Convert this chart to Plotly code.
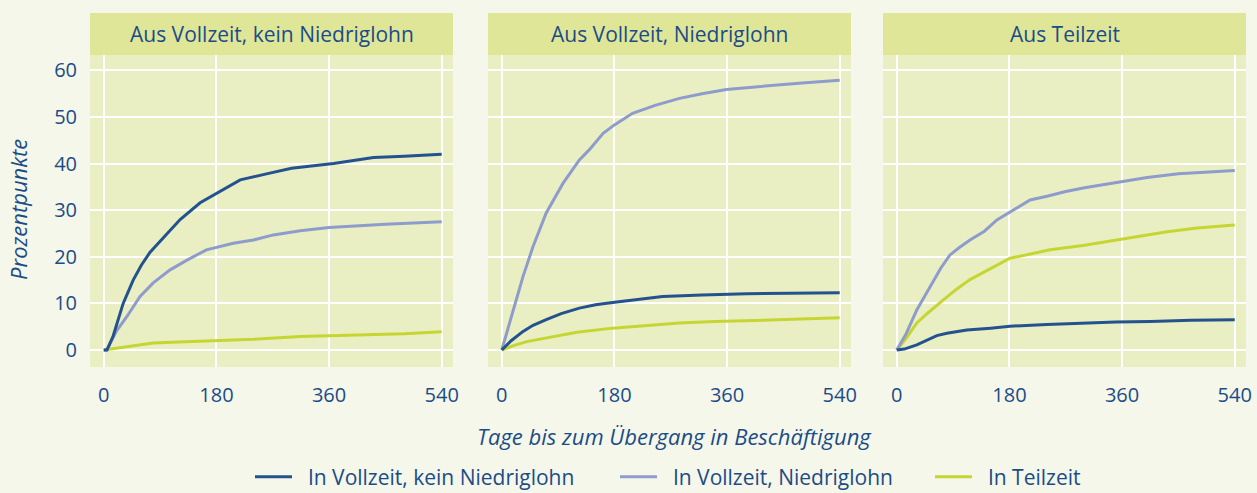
import plotly.graph_objects as go

# ---------------- data ----------------
panel_titles = ["Aus Vollzeit, kein Niedriglohn", "Aus Vollzeit, Niedriglohn", "Aus Teilzeit"]
series_names = ["In Vollzeit, kein Niedriglohn", "In Vollzeit, Niedriglohn", "In Teilzeit"]
series_colors = ["#24528f", "#8e9ccc", "#c5d632"]

x_ticks = [0, 180, 360, 540]
y_ticks = [0, 10, 20, 30, 40, 50, 60]

# Panel 1: Aus Vollzeit, kein Niedriglohn
p1_vz_kein_days = [0, 5, 15, 31, 47, 60, 74, 95, 122, 154, 180, 218, 260, 300, 367, 431, 480, 540]
p1_vz_kein_vals = [0, 0, 3, 10, 15, 18.2, 21, 24, 28, 31.6, 33.6, 36.5, 37.8, 39, 40, 41.3, 41.6, 42]
p1_vz_nl_days = [0, 5, 20, 37, 58, 79, 106, 133, 164, 207, 239, 271, 314, 360, 450, 540]
p1_vz_nl_vals = [0, 0, 4, 7.2, 11.5, 14.4, 17.2, 19.3, 21.5, 22.9, 23.6, 24.7, 25.6, 26.3, 27, 27.5]
p1_tz_days = [0, 40, 79, 120, 180, 240, 314, 400, 480, 540]
p1_tz_vals = [0, 0.7, 1.5, 1.7, 2.0, 2.3, 2.9, 3.2, 3.5, 3.9]

# Panel 2: Aus Vollzeit, Niedriglohn
p2_vz_kein_days = [0, 15, 34, 50, 71, 95, 124, 150, 177, 210, 257, 320, 391, 460, 540]
p2_vz_kein_vals = [0, 2, 4, 5.3, 6.5, 7.8, 9, 9.7, 10.2, 10.8, 11.5, 11.8, 12.1, 12.2, 12.3]
p2_vz_nl_days = [0, 18, 34, 50, 71, 98, 124, 140, 162, 180, 209, 245, 284, 320, 359, 400, 433, 480, 540]
p2_vz_nl_vals = [0, 8.6, 15.8, 22.2, 29.4, 35.8, 40.8, 43, 46.5, 48.3, 50.8, 52.5, 54, 55, 55.9, 56.4, 56.8, 57.3, 57.9]
p2_tz_days = [0, 20, 40, 71, 120, 177, 230, 284, 340, 391, 460, 540]
p2_tz_vals = [0, 1, 1.8, 2.6, 3.8, 4.7, 5.3, 5.8, 6.1, 6.3, 6.6, 6.9]

# Panel 3: Aus Teilzeit
p3_vz_kein_days = [0, 12, 32, 50, 64, 80, 112, 150, 181, 240, 299, 350, 405, 470, 540]
p3_vz_kein_vals = [0, 0.2, 1.1, 2.2, 3.1, 3.6, 4.3, 4.7, 5.1, 5.5, 5.8, 6.0, 6.1, 6.4, 6.5]
p3_vz_nl_days = [0, 15, 32, 53, 70, 85, 100, 117, 140, 160, 185, 213, 240, 270, 300, 330, 360, 400, 450, 500, 540]
p3_vz_nl_vals = [0, 3.5, 8.6, 13.6, 17.5, 20.4, 22, 23.6, 25.5, 27.9, 30, 32.2, 33, 34, 34.8, 35.5, 36.2, 37, 37.8, 38.2, 38.5]
p3_tz_days = [0, 15, 32, 50, 75, 95, 117, 150, 181, 210, 245, 300, 352, 400, 432, 480, 540]
p3_tz_vals = [0, 2.5, 5.8, 8, 10.8, 13, 15.1, 17.5, 19.7, 20.5, 21.5, 22.5, 23.6, 24.6, 25.4, 26.2, 26.8]

panels = [
    [(p1_vz_kein_days, p1_vz_kein_vals), (p1_vz_nl_days, p1_vz_nl_vals), (p1_tz_days, p1_tz_vals)],
    [(p2_vz_kein_days, p2_vz_kein_vals), (p2_vz_nl_days, p2_vz_nl_vals), (p2_tz_days, p2_tz_vals)],
    [(p3_vz_kein_days, p3_vz_kein_vals), (p3_vz_nl_days, p3_vz_nl_vals), (p3_tz_days, p3_tz_vals)],
]

# ---------------- styling ----------------
W, H = 1257, 493
TEXT = "#1b4c87"
PAPER_BG = "#f5f7ea"
PLOT_BG = "#e9efc3"
HEADER_BG = "#dfe697"
FONT = "Open Sans"

M_T, M_B = 13, 126
ph = H - M_T - M_B
y_top = (367 - 55) / ph

x_domains = [(90 / W, 453 / W), (488 / W, 851 / W), (883 / W, 1246 / W)]
legend_names = ["legend", "legend2", "legend3"]
legend_x = [250 / W, 615 / W, 930 / W]

fig = go.Figure()

for p, series in enumerate(panels):
    xa = "x" if p == 0 else f"x{p+1}"
    ya = "y" if p == 0 else f"y{p+1}"
    # draw order: lime, lavender, dark on top
    for s in [2, 1, 0]:
        days, vals = series[s]
        fig.add_trace(go.Scatter(
            x=days, y=vals, mode="lines", name="\u00a0\u00a0" + series_names[s],
            line=dict(color=series_colors[s], width=3),
            xaxis=xa, yaxis=ya,
            showlegend=(p == 0), legend=legend_names[s],
            hoverinfo="skip",
        ))

layout = dict(
    width=W, height=H,
    paper_bgcolor=PAPER_BG, plot_bgcolor=PLOT_BG,
    margin=dict(l=0, r=0, t=M_T, b=M_B, autoexpand=False),
    font=dict(family=FONT, color=TEXT, size=20),
)

for p in range(3):
    suffix = "" if p == 0 else str(p + 1)
    layout["xaxis" + suffix] = dict(
        domain=list(x_domains[p]), anchor="y" + suffix,
        range=[-22, 558], tickvals=x_ticks, ticktext=[str(t) for t in x_ticks],
        showgrid=True, gridcolor="white", gridwidth=1.5, zeroline=False,
        showline=False, ticks="", ticklabelstandoff=14,
        tickfont=dict(size=20, color=TEXT, family=FONT),
    )
    layout["yaxis" + suffix] = dict(
        domain=[0, y_top], anchor="x" + suffix,
        range=[-3.64, 63.3], tickvals=y_ticks,
        showgrid=True, gridcolor="white", gridwidth=1.5, zeroline=False,
        showline=False, ticks="", showticklabels=(p == 0), ticklabelstandoff=12,
        tickfont=dict(size=20, color=TEXT, family=FONT),
    )

for i, ln in enumerate(legend_names):
    layout[ln] = dict(
        orientation="h", x=legend_x[i], xanchor="left",
        y=(367 - 477) / ph, yanchor="middle",
        bgcolor="rgba(0,0,0,0)", font=dict(size=21, color=TEXT, family=FONT),
        itemwidth=37,
    )

fig.update_layout(**layout)

# Panel headers
for p in range(3):
    xr = "x domain" if p == 0 else f"x{p+1} domain"
    fig.add_shape(type="rect", xref=xr, yref="paper", x0=0, x1=1, y0=y_top, y1=1,
                  fillcolor=HEADER_BG, line=dict(width=0), layer="below")
    fig.add_annotation(text=panel_titles[p], xref=xr, yref="paper", x=0.5, y=(y_top + 1) / 2,
                       xanchor="center", yanchor="middle", showarrow=False,
                       font=dict(size=21, color=TEXT, family=FONT))

# Axis titles
fig.add_annotation(text="<i>Prozentpunkte</i>", xref="paper", yref="paper",
                   x=18 / W, y=(367 - 210) / ph, textangle=-90,
                   xanchor="center", yanchor="middle", showarrow=False,
                   font=dict(size=22, color=TEXT, family=FONT))
fig.add_annotation(text="<i>Tage bis zum Übergang in Beschäftigung</i>", xref="paper", yref="paper",
                   x=674 / W, y=(367 - 436) / ph,
                   xanchor="center", yanchor="middle", showarrow=False,
                   font=dict(size=22, color=TEXT, family=FONT))

fig.write_html(
    "out.html",
    config={"displayModeBar": False},
    post_script="document.body.style.margin='0';document.body.style.background='#f5f7ea';"
                "document.documentElement.style.background='#f5f7ea';",
)
